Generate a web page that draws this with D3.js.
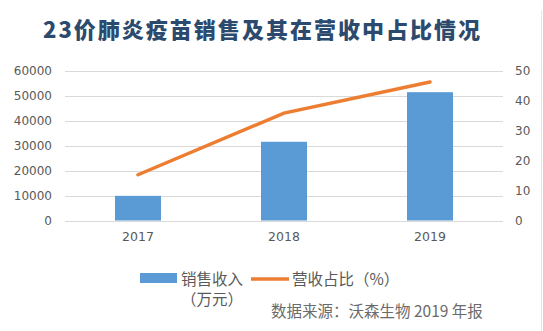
<!DOCTYPE html>
<html>
<head>
<meta charset="utf-8">
<script src="https://cdn.jsdelivr.net/npm/d3@7"></script>
<style>
  html, body { margin: 0; padding: 0; background: #fff; }
  svg { display: block; }
</style>
</head>
<body>
<svg id="chart" width="543" height="331"></svg>
<script>
// Sales of the 23-valent pneumococcal vaccine and its share of revenue
const years = ["2017", "2018", "2019"];
const salesValues = [9900, 31600, 51500];      // 销售收入（万元）
const shareValues = [15.3, 35.9, 46.3];        // 营收占比（%）
const leftTicks = [0, 10000, 20000, 30000, 40000, 50000, 60000];
const rightTicks = [0, 10, 20, 30, 40, 50];

const svg = d3.select("#chart");
const W = 543, H = 331;
const x0 = 65, x1 = 503, yTop = 71, yBot = 220.5;

const x = d3.scaleBand().domain(years).range([x0, x1]).paddingInner(0.685).paddingOuter(0.3425);
const yL = d3.scaleLinear().domain([0, 60000]).range([yBot, yTop]);
const yR = d3.scaleLinear().domain([0, 50]).range([yBot, yTop]);

const labelColor = "#595959";
const font = "'DejaVu Sans', Verdana, sans-serif";
const cjk = "'Noto Sans CJK SC', sans-serif";

// Faint frame edge on the right
svg.append("line").attr("x1", 541.5).attr("x2", 541.5).attr("y1", 10).attr("y2", H)
  .attr("stroke", "#e6e6e6").attr("stroke-width", 1);

// Title
svg.append("text")
  .attr("x", 43).attr("y", 38)
  .attr("textLength", 437).attr("lengthAdjust", "spacing")
  .attr("font-family", cjk)
  .attr("font-weight", 900).attr("font-size", 22)
  .attr("fill", "#2c4a6e")
  .text("23价肺炎疫苗销售及其在营收中占比情况");

// Gridlines
svg.append("g").selectAll("line").data(leftTicks).join("line")
  .attr("x1", x0).attr("x2", x1)
  .attr("y1", d => Math.round(yL(d)) + 0.5).attr("y2", d => Math.round(yL(d)) + 0.5)
  .attr("stroke", "#d9d9d9").attr("stroke-width", 1);

// Left axis
const axL = svg.append("g").attr("transform", `translate(${x0},0)`)
  .call(d3.axisLeft(yL).tickValues(leftTicks).tickSize(0).tickPadding(13).tickFormat(d3.format("d")));
axL.select(".domain").remove();
axL.selectAll("text").attr("fill", labelColor).attr("font-size", 12).attr("font-family", font);

// Right axis
const axR = svg.append("g").attr("transform", `translate(${x1},0)`)
  .call(d3.axisRight(yR).tickValues(rightTicks).tickSize(0).tickPadding(12).tickFormat(d3.format("d")));
axR.select(".domain").remove();
axR.selectAll("text").attr("fill", labelColor).attr("font-size", 12).attr("font-family", font);

// Bottom axis (category labels)
const axB = svg.append("g").attr("transform", `translate(0,${yBot})`)
  .call(d3.axisBottom(x).tickSize(0).tickPadding(12));
axB.select(".domain").remove();
axB.selectAll("text").attr("fill", labelColor).attr("font-size", 12.5).attr("font-family", font);

// Bars
svg.append("g").selectAll("rect").data(years).join("rect")
  .attr("x", d => x(d)).attr("width", x.bandwidth())
  .attr("y", (d, i) => yL(salesValues[i]))
  .attr("height", (d, i) => yBot - yL(salesValues[i]))
  .attr("fill", "#5b9bd5");

// Share line
const line = d3.line().x((d, i) => x(years[i]) + x.bandwidth() / 2).y(d => yR(d));
svg.append("path").datum(shareValues)
  .attr("d", line).attr("fill", "none")
  .attr("stroke", "#ed7d31").attr("stroke-width", 3.5).attr("stroke-linecap", "round");

// Legend
const lg = svg.append("g").attr("font-family", cjk).attr("font-size", 15.5).attr("fill", labelColor);
lg.append("rect").attr("x", 140).attr("y", 273).attr("width", 37).attr("height", 10).attr("fill", "#5b9bd5");
lg.append("text").attr("x", 181).attr("y", 285).text("销售收入");
lg.append("text").attr("x", 181).attr("y", 305).text("（万元）");
lg.append("line").attr("x1", 251).attr("x2", 289).attr("y1", 279).attr("y2", 279)
  .attr("stroke", "#ed7d31").attr("stroke-width", 3.5);
lg.append("text").attr("x", 292).attr("y", 285).text("营收占比（%）");

// Source note
svg.append("text").attr("x", 271).attr("y", 317)
  .attr("font-family", cjk).attr("font-size", 15.5)
  .attr("fill", "#6b6b6b")
  .text("数据来源：沃森生物 2019 年报");
</script>
</body>
</html>
